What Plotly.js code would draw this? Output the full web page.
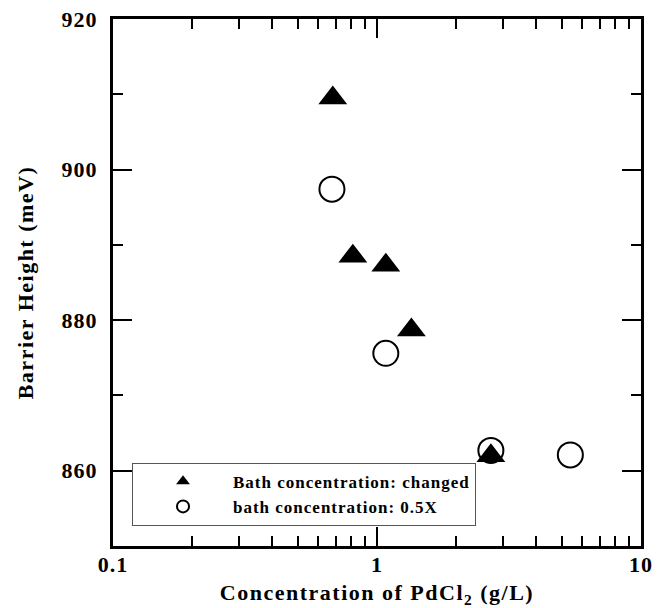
<!DOCTYPE html>
<html>
<head>
<meta charset="utf-8">
<script src="https://cdn.plot.ly/plotly-3.0.1.min.js"></script>
<style>
html, body { margin: 0; padding: 0; background: #fff; }
#chart { width: 663px; height: 608px; }
.legendtext { letter-spacing: 1px; }
.xtick text, .ytick text { letter-spacing: 1px; }
.xtitle, .ytitle { letter-spacing: 1.5px; }
</style>
</head>
<body>
<div id="chart"></div>
<script>
// Data
const changedX = [0.68, 0.81, 1.08, 1.35, 2.70];
const changedY = [909.5, 888.5, 887.3, 878.7, 862.0];
const halfX = [0.675, 1.08, 2.70, 5.40];
const halfY = [897.4, 875.6, 862.7, 862.1];

const seriesNames = ['Bath concentration: changed', 'bath concentration: 0.5X'];
const xTickVals = [0.1, 1, 10];
const xTickText = ['0.1', '1', '10'];
const xMinorVals = [0.2, 0.3, 0.4, 0.5, 0.6, 0.7, 0.8, 0.9, 2, 3, 4, 5, 6, 7, 8, 9];
const yTickVals = [860, 880, 900, 920];

const fontFam = "'Liberation Serif', 'Times New Roman', serif";

const traces = [
  {
    x: changedX, y: changedY, type: 'scatter', mode: 'markers',
    name: seriesNames[0], showlegend: false,
    marker: { symbol: 'triangle-up', size: 25, color: '#000' }
  },
  {
    x: halfX, y: halfY, type: 'scatter', mode: 'markers',
    name: seriesNames[1], showlegend: false,
    marker: { symbol: 'circle-open', size: 25, color: '#000', line: { width: 2, color: '#000' } }
  },
  {
    x: [null], y: [null], type: 'scatter', mode: 'markers',
    name: seriesNames[0], showlegend: true,
    marker: { symbol: 'triangle-up', size: 12, color: '#000' }
  },
  {
    x: [null], y: [null], type: 'scatter', mode: 'markers',
    name: seriesNames[1], showlegend: true,
    marker: { symbol: 'circle-open', size: 12, color: '#000', line: { width: 2, color: '#000' } }
  }
];

const tickFont = { family: fontFam, size: 22, weight: 'bold', color: '#000' };
const titleFont = { family: fontFam, size: 22, weight: 'bold', color: '#000' };

const axisCommon = {
  showline: true, linewidth: 3, linecolor: '#000',
  mirror: 'ticks', ticks: 'inside', tickwidth: 2, tickcolor: '#000',
  ticklen: 19, showgrid: false, zeroline: false,
  tickfont: tickFont
};

const layout = {
  width: 663, height: 608,
  margin: { l: 113, r: 22, t: 19, b: 62 },
  paper_bgcolor: '#fff', plot_bgcolor: '#fff',
  showlegend: true,
  legend: {
    x: 0.036, y: 0.158, xanchor: 'left', yanchor: 'top',
    bordercolor: '#555', borderwidth: 1, bgcolor: '#fff',
    itemwidth: 90, tracegroupgap: 0,
    font: { family: fontFam, size: 17, weight: 'bold', color: '#000' }
  },
  xaxis: Object.assign({}, axisCommon, {
    type: 'log', range: [-1, 1],
    tickmode: 'array', tickvals: xTickVals, ticktext: xTickText,
    ticklabelstandoff: -3,
    minor: { tickmode: 'array', tickvals: xMinorVals, ticks: 'inside', ticklen: 10, tickwidth: 2, tickcolor: '#000' },
    title: {
      text: 'Concentration of PdCl<sub>2</sub> (g/L)',
      font: titleFont,
      standoff: 10
    }
  }),
  yaxis: Object.assign({}, axisCommon, {
    range: [850, 920],
    tickvals: yTickVals,
    ticklabelstandoff: 8,
    minor: { ticks: 'inside', ticklen: 10, tickwidth: 2, tickcolor: '#000', dtick: 10 },
    title: {
      text: 'Barrier Height (meV)',
      font: titleFont,
      standoff: 22
    }
  })
};

Plotly.newPlot('chart', traces, layout, { displayModeBar: false, staticPlot: true });
</script>
</body>
</html>
